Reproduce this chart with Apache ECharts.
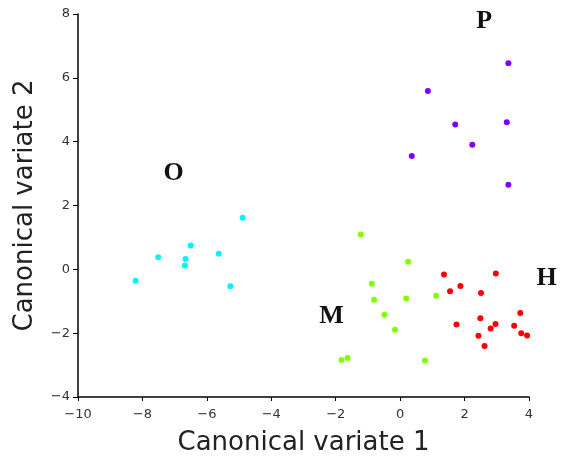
<!DOCTYPE html>
<html>
<head>
<meta charset="utf-8">
<script src="https://cdn.jsdelivr.net/npm/echarts@6/dist/echarts.min.js"></script>
<style>html,body{margin:0;padding:0;background:#fff}#c{width:563px;height:461px}</style>
</head>
<body>
<div id="c"></div>
<script>
var groupO = [[-8.21,-0.36],[-7.51,0.38],[-6.66,0.32],[-6.68,0.12],[-6.50,0.75],[-5.63,0.49],[-5.27,-0.53],[-4.89,1.62]];
var groupP = [[3.36,6.46],[0.86,5.59],[1.71,4.54],[3.31,4.61],[2.24,3.90],[0.36,3.55],[3.36,2.65]];
var groupM = [[-1.22,1.09],[0.25,0.24],[-0.88,-0.45],[-0.81,-0.95],[0.19,-0.91],[1.12,-0.83],[-0.49,-1.42],[-0.16,-1.89],[-1.82,-2.84],[-1.63,-2.78],[0.77,-2.86]];
var groupH = [[1.36,-0.16],[2.97,-0.13],[1.87,-0.52],[1.55,-0.69],[2.51,-0.74],[1.75,-1.73],[2.49,-1.53],[3.73,-1.37],[2.96,-1.71],[3.54,-1.77],[2.81,-1.85],[3.76,-2.00],[3.94,-2.07],[2.43,-2.08],[2.62,-2.40]];
var groupLabels = [["O",-7.03,3.0],["P",2.61,7.76],["M",-2.13,-1.46],["H",4.55,-0.27]];
var xTitle = "Canonical variate 1";
var yTitle = "Canonical variate 2";

var chart = echarts.init(document.getElementById('c'), null, {renderer:'canvas'});
var axisCommon = {
  axisLine:{show:true,onZero:false,lineStyle:{color:'#000',width:1.5}},
  splitLine:{show:false},
  axisLabel:{color:'#333',fontSize:13,fontFamily:'DejaVu Sans'},
  nameLocation:'middle',
  nameTextStyle:{color:'#222',fontSize:26,fontFamily:'DejaVu Sans'}
};
function fmt(v){return String(v).replace('-','\u2212');}
function ser(d,c){return {type:'scatter',data:d,symbolSize:6,itemStyle:{color:c,opacity:1},silent:true};}
chart.setOption({
  animation:false,
  grid:{left:78,right:34,top:14,bottom:61,containLabel:false},
  xAxis:Object.assign({},axisCommon,{type:'value',min:-10,max:4,interval:2,name:xTitle,nameGap:33,
    axisTick:{show:true,inside:false,length:4,lineStyle:{color:'#000',width:1}},
    axisLabel:Object.assign({},axisCommon.axisLabel,{margin:11,formatter:fmt})}),
  yAxis:Object.assign({},axisCommon,{type:'value',min:-4,max:8,interval:2,name:yTitle,nameGap:40,
    axisTick:{show:true,inside:false,length:5,lineStyle:{color:'#000',width:1}},
    axisLabel:Object.assign({},axisCommon.axisLabel,{margin:8,formatter:fmt})}),
  series:[
    ser(groupO,'#00f4ff'),
    ser(groupP,'#8000ff'),
    ser(groupM,'#80ff00'),
    ser(groupH,'#ff0000'),
    {type:'scatter',clip:false,silent:true,symbolSize:0,itemStyle:{opacity:1},
     data:groupLabels.map(function(l){return {value:[l[1],l[2]],name:l[0]};}),
     label:{show:true,position:'inside',formatter:'{b}',color:'#111',opacity:1,fontSize:26,fontWeight:'bold',fontFamily:'Liberation Serif'}}
  ]
});
</script>
</body>
</html>
